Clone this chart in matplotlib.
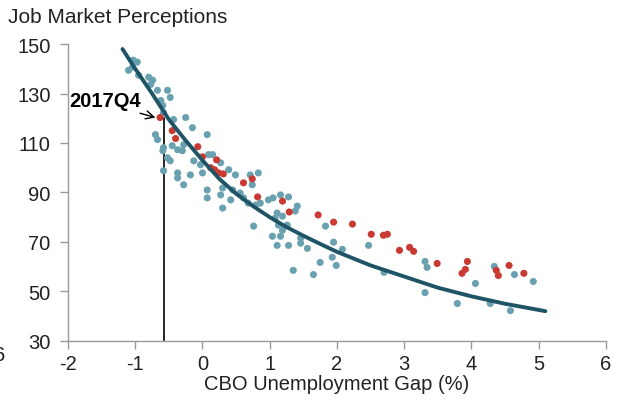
import matplotlib
matplotlib.use("Agg")
import matplotlib.pyplot as plt

plt.rcParams['font.family'] = ['Liberation Sans', 'DejaVu Sans']

title = "Job Market Perceptions"
xlabel = "CBO Unemployment Gap (%)"
xticks = [-2, -1, 0, 1, 2, 3, 4, 5, 6]
yticks = [30, 50, 70, 90, 110, 130, 150]

teal_x = [-1.03, -0.97, -1.10, -1.04, -0.95, -0.80, -0.74, -0.77, -0.67, -0.52, -0.48, -0.62, -0.59, -0.58,
          -0.25, -0.43, -0.15, 0.07, -0.70, -0.67,
          -0.58, -0.59, -0.45, -0.37, -0.30, -0.28, -0.13, -0.03, 0.09, 0.15, 0.27, 0.39, 0.49, -0.58,
          -0.37, -0.28, -0.18, 0.00, 0.30, 0.07, 0.07, 0.27, 0.42, 0.30, 0.56, 0.45, -0.37, -0.52, -0.48,
          0.71, 0.83, 0.74, 0.61, 0.68, 0.79, 0.86, 0.98, 1.05, 1.16, 1.28, 1.11, 1.08, 1.19, 1.41, 1.38,
          1.13, 1.19, 1.26, 1.04, 1.16, 0.76, 1.83, 1.11, 1.28, 1.46, 1.56, 1.46,
          1.35, 1.65, 1.75, 1.95, 2.08, 1.93, 1.99, 2.47, 2.70, 3.31, 3.34, 3.31,
          4.06, 3.79, 4.28, 4.58, 4.34, 4.64, 4.92]
teal_y = [143.5, 142.7, 139.4, 140.7, 137.4, 136.6, 135.4, 133.7, 131.3, 131.3, 128.4, 127.2, 125.2, 122.3,
          120.3, 119.5, 116.2, 113.4, 113.4, 111.4,
          108.1, 106.9, 108.9, 107.3, 106.9, 109.3, 102.8, 101.2, 105.3, 105.3, 102.0, 99.2, 97.1, 98.8,
          97.9, 93.1, 97.1, 97.9, 91.8, 91.0, 87.8, 89.0, 87.0, 83.7, 89.8, 91.0, 95.9, 104.0, 102.8,
          97.1, 97.9, 93.1, 87.8, 85.7, 84.9, 85.7, 87.0, 87.8, 89.0, 88.2, 81.7, 79.6, 80.4, 84.5, 82.5,
          76.8, 74.7, 76.8, 72.3, 72.3, 76.4, 76.4, 68.6, 68.6, 71.5, 67.4, 69.5,
          58.5, 56.8, 61.7, 69.9, 67.0, 63.8, 60.5, 68.6, 57.7, 62.1, 59.7, 49.5,
          53.2, 45.1, 45.1, 42.2, 60.1, 56.8, 54.0]

red_x = [-0.63, -0.45, -0.40, -0.07, 0.00, 0.21, 0.12, 0.18, 0.24, 0.31, 0.61, 0.74, 0.82, 1.19, 1.29,
         1.72, 1.95, 2.23, 2.51, 2.69, 2.75, 2.93, 3.08, 3.14, 3.49, 3.94, 3.91, 3.86, 4.37, 4.40, 4.56, 4.78]
red_y = [120.3, 115.0, 111.8, 108.5, 104.4, 103.2, 100.0, 99.2, 97.9, 97.5, 93.9, 95.5, 88.2, 86.5, 82.1,
         80.9, 78.0, 77.2, 73.1, 72.7, 73.1, 66.6, 67.8, 66.2, 61.3, 62.1, 58.9, 57.3, 58.5, 56.4, 60.5, 57.3]

curve_x = [-1.19, -1.0, -0.75, -0.5, -0.25, 0.0, 0.25, 0.5, 0.75, 1.0, 1.25, 1.5, 1.75, 2.0, 2.5, 3.0,
           3.5, 4.0, 4.5, 5.1]
curve_y = [148, 140, 130, 119.5, 111, 103, 95.5, 89.5, 84.5, 80, 76, 72.5, 69.2, 66, 60.5, 56,
           51.5, 48, 45, 42]

marker_x = -0.57
marker_y = 120.3
label = "2017Q4"

fig = plt.figure(figsize=(6.24, 4.06), dpi=100)
ax = fig.add_axes([0.109, 0.158, 0.862, 0.731])

teal = "#6aa1b0"
red = "#c83a32"
dark = "#1e5466"

ax.scatter(teal_x, teal_y, s=26, color=teal, edgecolors='none', zorder=2)
ax.scatter(red_x, red_y, s=26, color=red, edgecolors='none', zorder=3)
ax.plot(curve_x, curve_y, color=dark, lw=2.8, zorder=4, solid_capstyle='round')
ax.plot([marker_x, marker_x], [30, marker_y], color='black', lw=1.2, zorder=1)

ax.annotate(label, xy=(-0.70, 120.3), xytext=(-1.45, 127.0),
            fontsize=14.5, fontweight='bold', ha='center', va='center',
            arrowprops=dict(arrowstyle='->', color='black', lw=1.0,
                            shrinkA=0, shrinkB=0, relpos=(0.85, 0.0)))

ax.set_xlim(-2, 6)
ax.set_ylim(30, 150)
ax.set_xticks(xticks)
ax.set_yticks(yticks)
ax.set_xticklabels([str(v) for v in xticks])
ax.set_yticklabels([str(v) for v in yticks])
for s in ['top', 'right']:
    ax.spines[s].set_visible(False)
for s in ['left', 'bottom']:
    ax.spines[s].set_color('#9a9a9a')
    ax.spines[s].set_linewidth(1.0)
ax.tick_params(axis='both', colors='#9a9a9a', labelcolor='#222222', labelsize=14.5,
               length=5.5, width=1.0, direction='out')
ax.tick_params(axis='y', pad=7)
ax.tick_params(axis='x', pad=4)
ax.set_xlabel(xlabel, fontsize=14.5, color='#222222', labelpad=1)

fig.text(0.013, 0.958, title, fontsize=15, color='#222222', ha='left', va='center')
fig.text(-0.010, 0.125, "6", fontsize=14.5, color='#222222', ha='left', va='center')

fig.savefig("out.png", dpi=100)
